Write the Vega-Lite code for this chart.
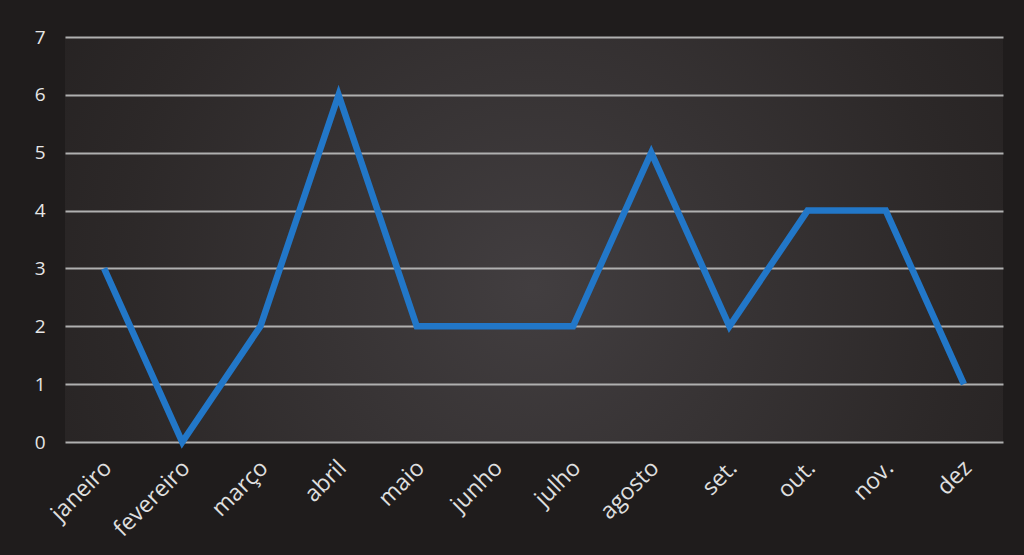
{
  "$schema": "https://vega.github.io/schema/vega-lite/v6.json",
  "width": 938,
  "height": 405,
  "autosize": {"type": "none"},
  "padding": {"left": 65, "top": 37, "right": 21, "bottom": 113},
  "background": "#1f1c1c",
  "data": {
    "values": [
      {"mes": "janeiro", "valor": 3},
      {"mes": "fevereiro", "valor": 0},
      {"mes": "março", "valor": 2},
      {"mes": "abril", "valor": 6},
      {"mes": "maio", "valor": 2},
      {"mes": "junho", "valor": 2},
      {"mes": "julho", "valor": 2},
      {"mes": "agosto", "valor": 5},
      {"mes": "set.", "valor": 2},
      {"mes": "out.", "valor": 4},
      {"mes": "nov.", "valor": 4},
      {"mes": "dez", "valor": 1}
    ]
  },
  "mark": {"type": "line", "color": "#2277c8", "strokeWidth": 6.5, "strokeJoin": "miter", "strokeCap": "butt"},
  "encoding": {
    "x": {
      "field": "mes",
      "type": "nominal",
      "sort": null,
      "scale": {"type": "band", "paddingInner": 0, "paddingOuter": 0},
      "axis": {
        "title": null,
        "labelAngle": -45,
        "labelAlign": "right",
        "labelBaseline": "middle",
        "labelPadding": 22,
        "labelOffset": 4,
        "labelFont": "Open Sans",
        "labelFontSize": 23,
        "labelColor": "#e0e0e0",
        "ticks": false,
        "domain": false,
        "grid": false
      }
    },
    "y": {
      "field": "valor",
      "type": "quantitative",
      "scale": {"domain": [0, 7], "nice": false},
      "axis": {
        "title": null,
        "values": [0, 1, 2, 3, 4, 5, 6, 7],
        "labelFont": "Open Sans",
        "labelFontSize": 19,
        "labelColor": "#e6e6e6",
        "labelPadding": 20,
        "ticks": false,
        "domain": false,
        "grid": true,
        "gridColor": "#b0b0b0",
        "gridWidth": 2
      }
    }
  },
  "config": {
    "view": {
      "stroke": null,
      "fill": {
        "gradient": "radial",
        "x1": 0.5, "y1": 0.55, "x2": 0.5, "y2": 0.55, "r1": 0, "r2": 0.75,
        "stops": [
          {"offset": 0, "color": "#423e40"},
          {"offset": 0.6, "color": "#2c2828"},
          {"offset": 1, "color": "#1f1c1c"}
        ]
      }
    }
  }
}
